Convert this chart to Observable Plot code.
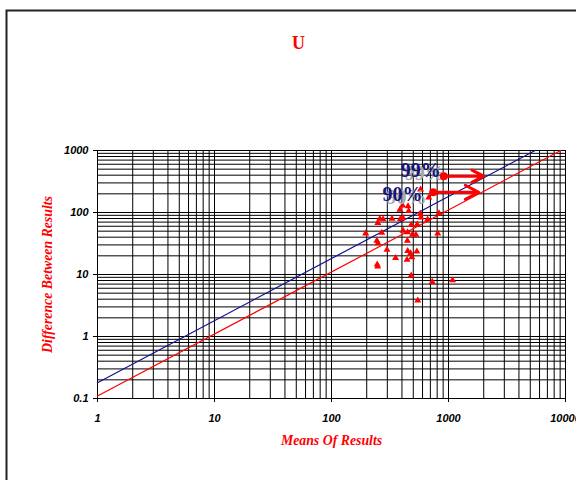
<!DOCTYPE html>
<html><head><meta charset="utf-8">
<script src="https://cdn.jsdelivr.net/npm/d3@7"></script>
<script src="https://cdn.jsdelivr.net/npm/@observablehq/plot@0.6"></script>
<style>html,body{margin:0;padding:0;overflow:hidden;background:#fff}</style>
</head><body><div id="chart"></div>
<script>
const title = "U";
const xLabel = "Means Of Results";
const yLabel = "Difference Between Results";
const xTicks = [1, 10, 100, 1000, 10000];
const yTicks = [0.1, 1, 10, 100, 1000];

// observed points (mean of results, difference between results)
const meansX = [679, 405, 451, 384, 457, 259, 276, 329, 387, 407, 574, 580, 662, 830, 249, 269, 196, 409, 447, 480, 540, 491, 526, 809, 244, 250, 445, 298, 448, 474, 536, 353, 442, 486, 246, 248, 480, 726, 1082, 546, 577];
const diffY  = [175, 130, 126, 111, 106, 79, 78, 79, 78, 82, 95, 83, 77, 97, 68, 47, 46, 51, 48, 63, 64, 44, 44, 46, 35, 32, 35, 25, 24, 22, 23.5, 18.5, 17.3, 19, 14.5, 13.5, 9.6, 7.6, 8.1, 3.8, 235];

// limit lines
const line99X = [1, 5500];
const line99Y = [0.18, 1000];
const line90X = [1, 9100];
const line90Y = [0.11, 1000];

// annotations
const pctLabels = ["99%", "90%"];
const labelX = [860, 600];
const labelY = [471, 198];
const arrowX1 = [912, 740];
const arrowX2 = [2000, 1815];
const arrowY = [385, 212];

const xGrid = d3.scaleLog().domain([1, 10000]).ticks();
const yGrid = d3.scaleLog().domain([0.1, 1000]).ticks();

const serif = "'Liberation Serif', 'Times New Roman', serif";

const plot = Plot.plot({
  width: 576, height: 480,
  marginLeft: 97, marginRight: 11, marginTop: 150, marginBottom: 82,
  style: {fontFamily: "'Liberation Sans', Arial, sans-serif", background: "#fff", color: "#000"},
  x: {type: "log", domain: [1, 10000]},
  y: {type: "log", domain: [0.1, 1000]},
  marks: [
    Plot.ruleX(xGrid, {stroke: "#000", strokeWidth: 1}),
    Plot.ruleY(yGrid, {stroke: "#000", strokeWidth: 1}),
    Plot.axisX({ticks: xTicks, tickSize: 4, tickPadding: 12, tickFormat: d => String(d), fontSize: 11, fontWeight: "bold", fontStyle: "italic", label: null}),
    Plot.axisY({ticks: yTicks, tickSize: 4, tickPadding: 5, tickFormat: d => String(d), fontSize: 11, fontWeight: "bold", fontStyle: "italic", label: null}),
    Plot.line(line99X.map((x, i) => ({x, y: line99Y[i]})), {x: "x", y: "y", stroke: "#101090", strokeWidth: 1.2}),
    Plot.line(line90X.map((x, i) => ({x, y: line90Y[i]})), {x: "x", y: "y", stroke: "#ff0000", strokeWidth: 1.2}),
    Plot.dot(meansX, {x: meansX, y: diffY, symbol: "triangle", r: 2.6, fill: "#ff0000", stroke: "none"}),
    Plot.text(pctLabels, {x: labelX, y: labelY, text: d => d, textAnchor: "end", dx: 4, dy: 3, fill: "#a8a8a8", fontSize: 20, fontWeight: "bold", fontFamily: serif}),
    Plot.text(pctLabels, {x: labelX, y: labelY, text: d => d, textAnchor: "end", fill: "#14147a", fontSize: 20, fontWeight: "bold", fontFamily: serif}),
    Plot.arrow(arrowY, {x1: arrowX1, x2: arrowX2, y1: arrowY, y2: arrowY, stroke: "#ff0000", strokeWidth: 3, headLength: 9, headAngle: 55}),
    Plot.dot(arrowY, {x: arrowX1, y: arrowY, r: 4, fill: "#ff0000"}),
    Plot.text([title], {text: d => d, frameAnchor: "top", textAnchor: "middle", lineAnchor: "middle", dx: -33, dy: -107, fill: "#ff0000", fontSize: 18, fontWeight: "bold", fontFamily: serif}),
    Plot.text([xLabel], {text: d => d, frameAnchor: "bottom", textAnchor: "middle", lineAnchor: "middle", dy: 42, fill: "#ff0000", fontSize: 13.8, fontWeight: "bold", fontStyle: "italic", fontFamily: serif}),
    Plot.text([yLabel], {text: d => d, frameAnchor: "left", textAnchor: "middle", lineAnchor: "middle", rotate: -90, dx: -49.5, fill: "#ff0000", fontSize: 13.8, fontWeight: "bold", fontStyle: "italic", fontFamily: serif})
  ]
});

d3.select(plot).append("path")
  .attr("d", "M6.5,480V10.5H576")
  .attr("fill", "none")
  .attr("stroke", "#222")
  .attr("stroke-width", 2);

document.getElementById("chart").appendChild(plot);
</script>
</body></html>
